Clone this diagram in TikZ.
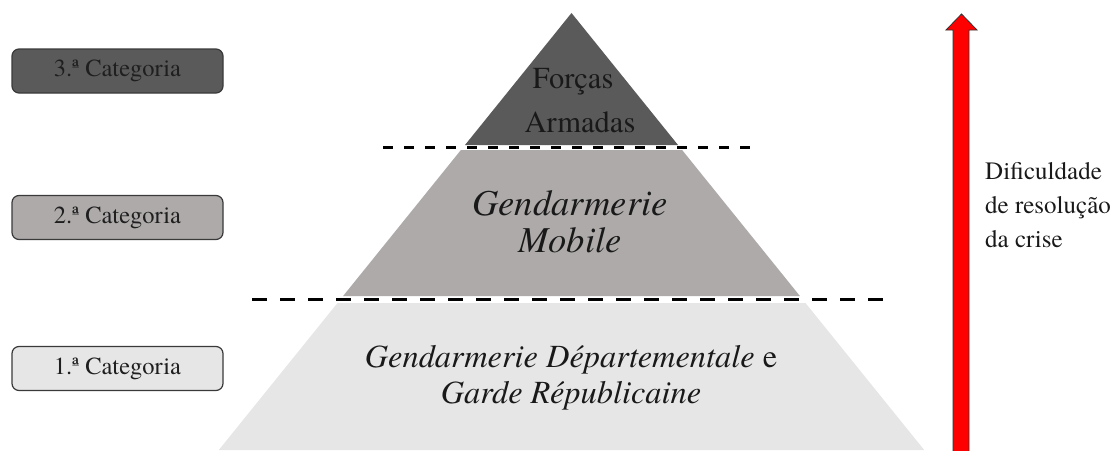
\documentclass[tikz,border=0pt]{standalone}
\usepackage{fontspec}
\setmainfont{texgyretermes}[Extension=.otf,UprightFont=*-regular,ItalicFont=*-italic,BoldFont=*-bold,BoldItalicFont=*-bolditalic]
\definecolor{lvlthree}{HTML}{5A5A5A}
\definecolor{lvltwo}{HTML}{AEAAAA}
\definecolor{lvlone}{HTML}{E7E6E6}
\definecolor{boxedge}{HTML}{3A3A3A}
\begin{document}
\begin{tikzpicture}[x=1pt,y=-1pt,
  catbox/.style={draw=boxedge,line width=1.2pt,rounded corners=7pt,minimum width=211pt,minimum height=44pt,inner sep=0pt,font=\fontsize{24.5}{28}\selectfont,text=black!88},
  lvltext/.style={anchor=base,inner sep=0pt,text=black!90},
  sidetext/.style={anchor=base west,inner sep=0pt,font=\fontsize{25}{30}\selectfont,text=black!90},
  sepline/.style={black,dash pattern=on 10pt off 11pt},
  sepline2/.style={black,dash pattern=on 15pt off 13pt}]
\useasboundingbox (0,0) rectangle (1115,450);
% pyramid sections
\fill[lvlthree] (571.5,13) -- (678.0,145) -- (465.0,145) -- cycle;
\fill[lvltwo] (460.9,150) -- (682.1,150) -- (799.9,296) -- (343.1,296) -- cycle;
\fill[lvlone] (337.5,303) -- (805.5,303) -- (924.2,450) -- (218.8,450) -- cycle;
% dashed separators
\coordinate (s1a) at (383,147.5);
\coordinate (s1b) at (760,147.5);
\coordinate (s2a) at (252,299.5);
\coordinate (s2b) at (894,299.5);
\draw[sepline,line width=3pt] (s1a) -- (s1b);
\draw[sepline2,line width=3.6pt] (s2a) -- (s2b);
% level labels
\node[lvltext,font=\fontsize{30.5}{36}\selectfont] (forcas) at (573,88) {Forças};
\node[lvltext,font=\fontsize{30.5}{36}\selectfont] (armadas) at (580,132) {Armadas};
\node[lvltext,font=\fontsize{36.5}{40}\selectfont\itshape] (gend) at (570,215) {Gendarmerie};
\node[lvltext,font=\fontsize{36.5}{40}\selectfont\itshape] (mobile) at (570,252) {Mobile};
\node[lvltext,font=\fontsize{32.4}{36}\selectfont] (gdep) at (571,367) {\textit{Gendarmerie Départementale} e};
\node[lvltext,font=\fontsize{32.4}{36}\selectfont\itshape] (garde) at (571,403) {Garde Républicaine};
% category boxes
\node[catbox,fill=lvlthree] (c3) at (117.5,71) {3.ª Categoria};
\node[catbox,fill=lvltwo] (c2) at (117.5,217.5) {2.ª Categoria};
\node[catbox,fill=lvlone] (c1) at (117.5,368.5) {1.ª Categoria};
% red arrow
\draw[fill=red,draw=black!80,line width=0.8pt,line join=miter]
  (953,451) -- (953,30) -- (946,30) -- (961.5,14) -- (977,30) -- (969,30) -- (969,451);
% side text
\node[sidetext] (d1) at (985,179) {Dificuldade};
\node[sidetext] (d2) at (985,213) {de resolução};
\node[sidetext] (d3) at (985,247) {da crise};
\end{tikzpicture}
\end{document}
